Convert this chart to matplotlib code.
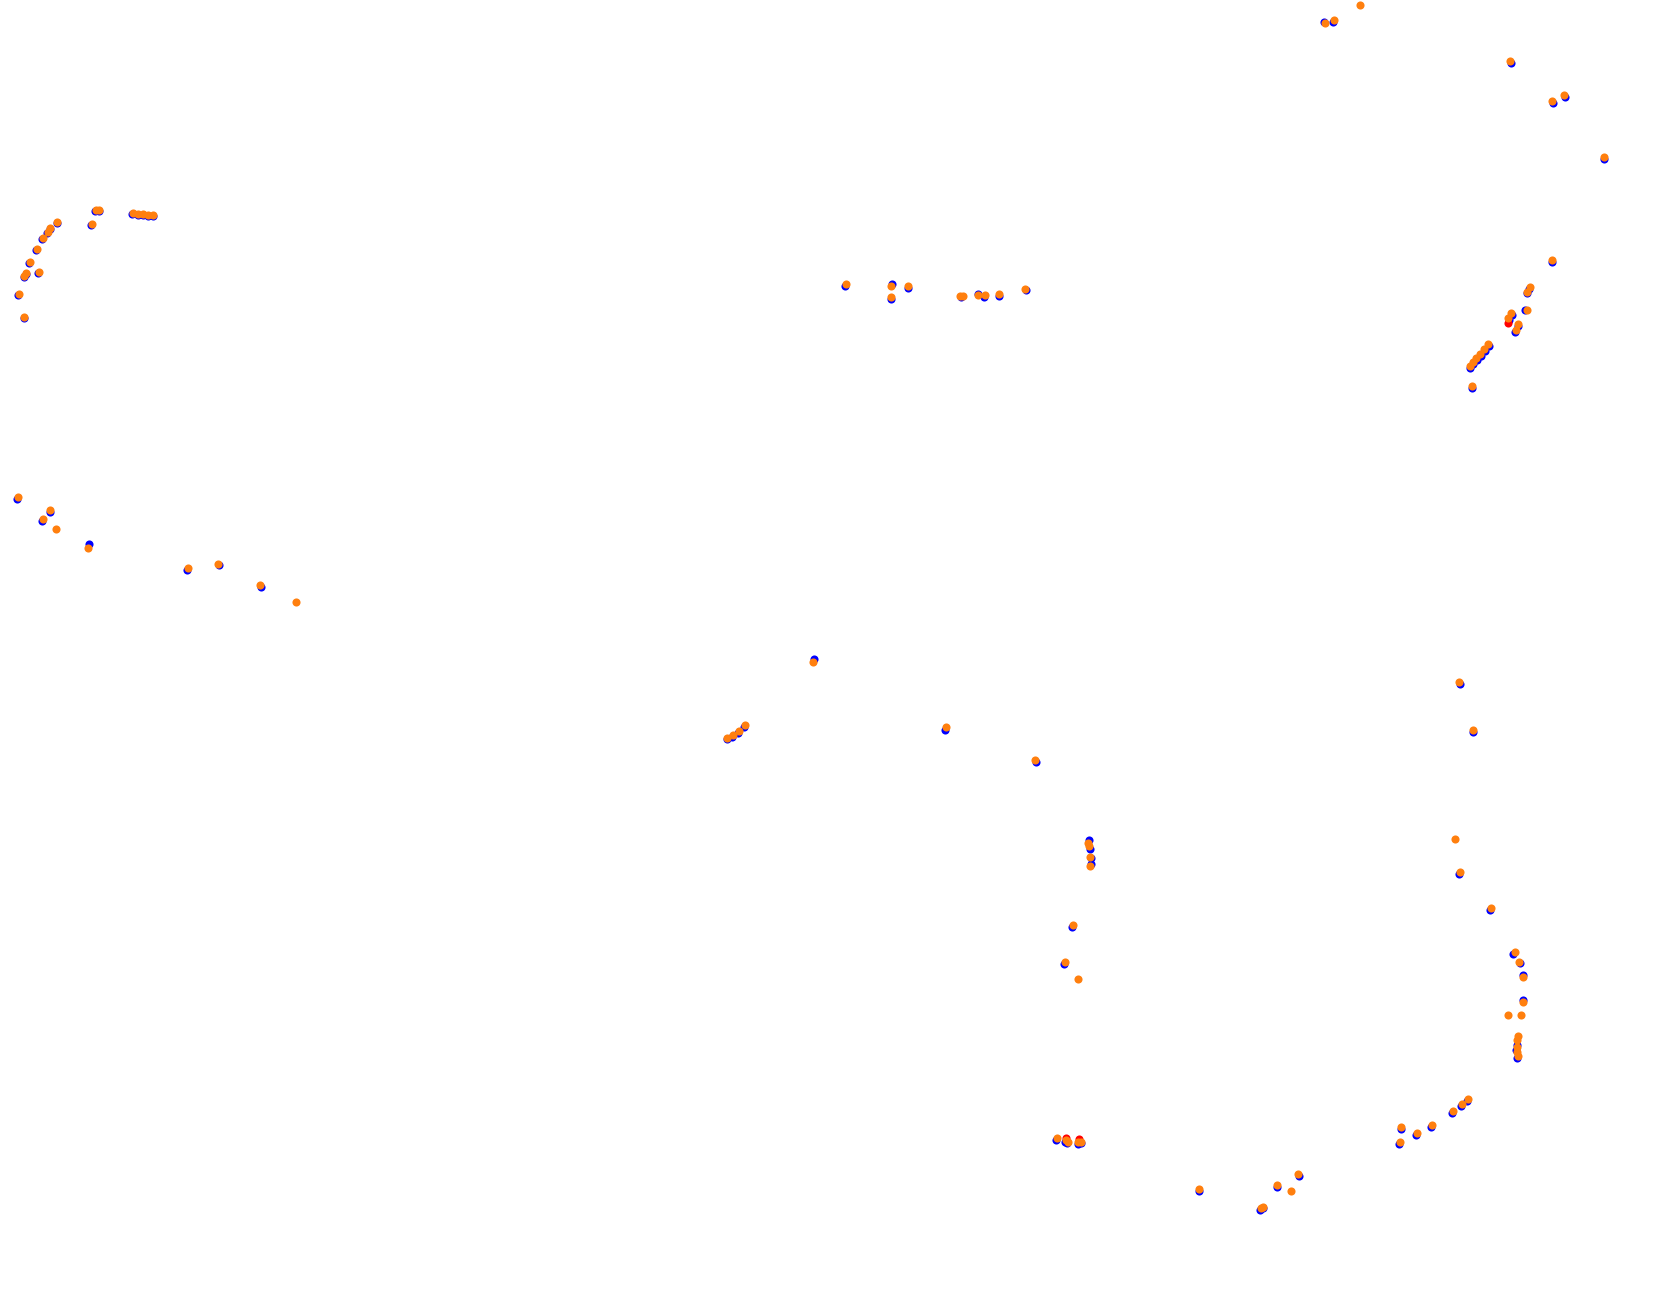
import matplotlib
matplotlib.use("Agg")
import matplotlib.pyplot as plt

# track positions (px-like units, y grows downward)
orange_x = [57, 50, 48, 43, 37, 30, 26, 24, 39, 19, 24, 92, 96, 99, 133, 138, 143, 148, 153,
            18, 50, 43, 56, 88, 188, 218, 260, 296,
            846, 891, 891, 908, 960, 963, 978, 985, 999, 1025,
            1360, 1325, 1334, 1510, 1552, 1564, 1604,
            1552, 1530, 1527, 1527, 1511, 1508, 1518, 1516, 1488, 1484, 1480, 1476, 1473, 1470, 1472,
            813, 727, 733, 739, 745, 946, 1035,
            1088, 1089, 1090, 1090, 1073, 1065, 1078,
            1057, 1066, 1068, 1078, 1081,
            1199, 1261, 1263, 1277, 1291, 1298, 1401, 1400, 1417, 1432, 1453, 1462, 1468,
            1459, 1473, 1455, 1460, 1491,
            1515, 1519, 1523, 1523, 1508, 1521, 1518, 1517, 1517, 1517, 1518]
orange_y = [222, 228, 232, 238, 249, 262, 273, 276, 272, 294, 317, 224, 210, 210, 213, 214, 214, 215, 215,
            497, 510, 519, 529, 548, 568, 564, 585, 602,
            284, 286, 297, 286, 296, 296, 295, 295, 294, 289,
            5, 23, 20, 61, 101, 95, 157,
            260, 287, 292, 310, 313, 318, 324, 330, 344, 349, 354, 358, 362, 366, 386,
            662, 738, 735, 731, 725, 727, 760,
            843, 846, 857, 866, 925, 962, 979,
            1138, 1140, 1142, 1142, 1142,
            1189, 1208, 1207, 1185, 1191, 1174, 1127, 1142, 1133, 1125, 1111, 1104, 1099,
            682, 730, 839, 872, 908,
            952, 962, 977, 1002, 1015, 1015, 1036, 1040, 1047, 1052, 1056]

blue_x = [57, 50, 47, 42, 36, 29, 26, 24, 38, 18, 24, 91, 95, 99, 132, 138, 143, 148, 153,
          17, 50, 42, 89, 187, 219, 261,
          845, 892, 891, 908, 961, 978, 984, 999, 1026,
          1324, 1333, 1511, 1553, 1565, 1604,
          1552, 1529, 1527, 1525, 1512, 1509, 1518, 1515, 1489, 1485, 1481, 1477, 1473, 1470, 1472,
          814, 727, 732, 738, 744, 945, 1036,
          1089, 1090, 1091, 1091, 1072, 1064,
          1056, 1065, 1067, 1078, 1081,
          1199, 1260, 1263, 1277, 1299, 1401, 1399, 1416, 1431, 1452, 1461, 1467,
          1460, 1473, 1459, 1490,
          1513, 1520, 1523, 1523, 1517, 1516, 1517]
blue_y = [223, 229, 233, 239, 250, 263, 274, 277, 273, 295, 318, 225, 211, 211, 214, 215, 215, 216, 216,
          499, 512, 521, 544, 570, 565, 587,
          286, 284, 299, 288, 297, 294, 297, 296, 290,
          22, 22, 63, 103, 97, 159,
          262, 289, 293, 310, 315, 320, 326, 332, 346, 351, 356, 360, 364, 368, 388,
          659, 739, 737, 733, 727, 730, 762,
          840, 849, 858, 864, 927, 964,
          1140, 1142, 1143, 1144, 1143,
          1191, 1210, 1208, 1187, 1176, 1129, 1144, 1135, 1127, 1113, 1106, 1101,
          684, 732, 874, 910,
          954, 963, 975, 1000, 1045, 1050, 1058]

red_x = [1508, 1066, 1079]
red_y = [323, 1138, 1139]

fig = plt.figure(figsize=(16.8, 12.92), dpi=100)
ax = fig.add_axes([0, 0, 1, 1])
ax.scatter(blue_x, blue_y, s=34, c="blue", linewidths=0, zorder=1)
ax.scatter(red_x, red_y, s=34, c="red", linewidths=0, zorder=2)
ax.scatter(orange_x, orange_y, s=34, c="#ff7f0e", linewidths=0, zorder=3)
ax.set_xlim(0, 1680)
ax.set_ylim(1292, 0)
ax.axis("off")
fig.savefig("out.png", dpi=100, facecolor="white")
